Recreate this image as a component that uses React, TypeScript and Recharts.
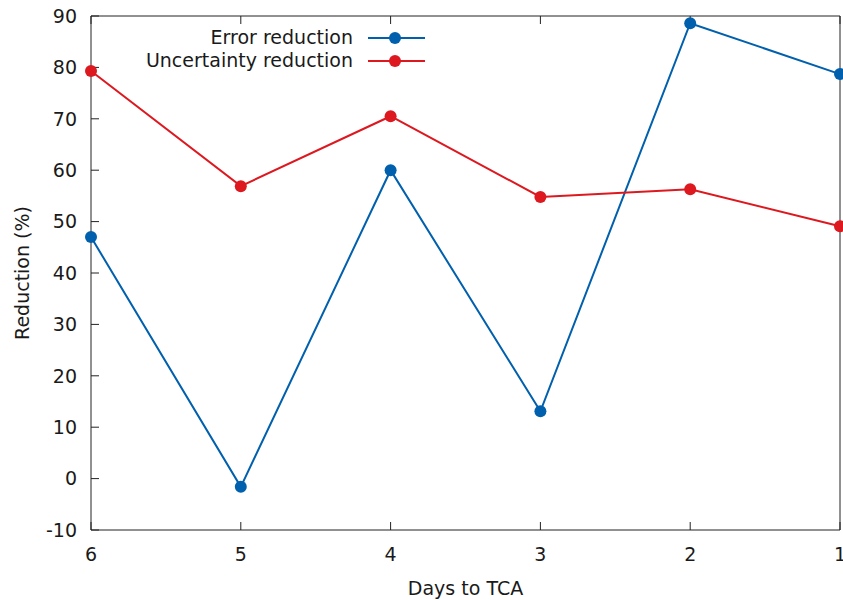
import { LineChart, Line, XAxis, YAxis, Legend } from "recharts"

const days = [6, 5, 4, 3, 2, 1]
const errorReduction = [47.0, -1.6, 60.0, 13.1, 88.6, 78.7]
const uncertaintyReduction = [79.3, 56.9, 70.5, 54.8, 56.3, 49.1]
const yTicks = [-10, 0, 10, 20, 30, 40, 50, 60, 70, 80, 90]

const BLUE = "#0060ad"
const RED = "#dd181f"
const FONT = "'DejaVu Sans', Verdana, sans-serif"
const FS = 19

const rows = days.map((d, i) => ({
  day: d,
  err: errorReduction[i],
  unc: uncertaintyReduction[i],
}))

const legendItems = [
  { label: "Error reduction", color: BLUE },
  { label: "Uncertainty reduction", color: RED },
]

function KeyBox() {
  return (
    <div style={{ width: 427, fontFamily: FONT, fontSize: FS, color: "#1a1a1a" }}>
      {legendItems.map((it) => (
        <div
          key={it.label}
          style={{ display: "flex", justifyContent: "flex-end", alignItems: "center", height: 23 }}
        >
          <span style={{ marginRight: 13, whiteSpace: "nowrap", lineHeight: "23px" }}>{it.label}</span>
          <svg width={61} height={14}>
            <line x1={2} y1={7} x2={59} y2={7} stroke={it.color} strokeWidth={2} />
            <circle cx={29} cy={7} r={6} fill={it.color} />
          </svg>
        </div>
      ))}
    </div>
  )
}

const noTick = () => <g />

export default function App() {
  const axisLine = { stroke: "#222", strokeWidth: 1 }
  const tickStyle = { fill: "#1a1a1a", fontSize: FS, fontFamily: FONT }

  return (
    <div
      style={{
        position: "absolute",
        left: 0,
        top: 0,
        width: 843,
        height: 600,
        overflow: "hidden",
        background: "#fff",
      }}
    >
      <LineChart width={860} height={600} data={rows} margin={{ top: 0, right: 0, bottom: 0, left: 0 }}>
        <XAxis
          xAxisId="b"
          dataKey="day"
          type="number"
          domain={[1, 6]}
          reversed
          ticks={days}
          height={70}
          axisLine={axisLine}
          tickLine={axisLine}
          tickSize={-8}
          tickMargin={26}
          tick={tickStyle}
          label={{ value: "Days to TCA", position: "insideBottom", offset: 5, style: tickStyle }}
        />
        <XAxis
          xAxisId="t"
          dataKey="day"
          type="number"
          orientation="top"
          domain={[1, 6]}
          reversed
          ticks={days}
          height={16}
          axisLine={axisLine}
          tickLine={axisLine}
          tickSize={-8}
          tick={noTick}
        />
        <YAxis
          yAxisId="l"
          domain={[-10, 90]}
          ticks={yTicks}
          width={91}
          axisLine={axisLine}
          tickLine={axisLine}
          tickSize={-8}
          tickMargin={22}
          tick={tickStyle}
          label={{
            value: "Reduction (%)",
            angle: -90,
            position: "insideLeft",
            offset: 22,
            style: { ...tickStyle, textAnchor: "middle" },
          }}
        />
        <YAxis
          yAxisId="r"
          orientation="right"
          domain={[-10, 90]}
          ticks={yTicks}
          width={20}
          axisLine={axisLine}
          tickLine={axisLine}
          tickSize={-8}
          tick={noTick}
        />
        <Legend
          layout="vertical"
          align="center"
          verticalAlign="middle"
          content={() => <KeyBox />}
          wrapperStyle={{ position: "absolute", left: 0, top: 26, width: 427 }}
        />
        <Line
          xAxisId="b"
          yAxisId="l"
          dataKey="err"
          stroke={BLUE}
          strokeWidth={2}
          dot={{ r: 6, fill: BLUE, stroke: BLUE, strokeWidth: 0 }}
          activeDot={false}
          isAnimationActive={false}
        />
        <Line
          xAxisId="b"
          yAxisId="l"
          dataKey="unc"
          stroke={RED}
          strokeWidth={2}
          dot={{ r: 6, fill: RED, stroke: RED, strokeWidth: 0 }}
          activeDot={false}
          isAnimationActive={false}
        />
      </LineChart>
    </div>
  )
}
